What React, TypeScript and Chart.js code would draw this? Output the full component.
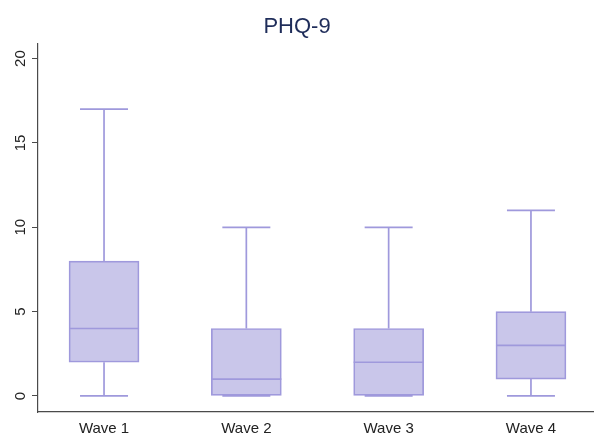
import React, { useEffect, useRef } from "react";
import { Chart, registerables } from "chart.js";

Chart.register(...registerables);

const title = "PHQ-9";
const categories = ["Wave 1", "Wave 2", "Wave 3", "Wave 4"];
const positions = [1, 2, 3, 4];
const mins = [0, 0, 0, 0];
const q1s = [2, 0, 0, 1];
const medians = [4, 1, 2, 3];
const q3s = [8, 4, 4, 5];
const maxs = [17, 10, 10, 11];
const yTicks = [0, 5, 10, 15, 20];

const FILL = "#c9c6ea";
const STROKE = "#9f99dc";
const AXIS = "#4a4a4a";
const TEXT = "#222222";
const FONT = "'Liberation Sans', Arial, sans-serif";
const BOX_HALF = 35;
const CAP_HALF = 24;
const LW = 1.7;

const boxPlugin = {
  id: "boxWhiskers",
  beforeDatasetsDraw(chart: any) {
    const { ctx } = chart;
    const x = chart.scales.x;
    const y = chart.scales.y;
    ctx.save();
    ctx.strokeStyle = STROKE;
    ctx.lineWidth = LW;
    positions.forEach((p, i) => {
      const cx = x.getPixelForValue(p);
      const yMin = y.getPixelForValue(mins[i]);
      const yQ1 = y.getPixelForValue(q1s[i]);
      const yQ3 = y.getPixelForValue(q3s[i]);
      const yMax = y.getPixelForValue(maxs[i]);
      ctx.beginPath();
      ctx.moveTo(cx, yQ3);
      ctx.lineTo(cx, yMax);
      ctx.moveTo(cx - CAP_HALF, yMax);
      ctx.lineTo(cx + CAP_HALF, yMax);
      ctx.moveTo(cx, yQ1);
      ctx.lineTo(cx, yMin);
      ctx.moveTo(cx - CAP_HALF, yMin);
      ctx.lineTo(cx + CAP_HALF, yMin);
      ctx.stroke();
    });
    ctx.restore();
  },
  afterDatasetsDraw(chart: any) {
    const { ctx } = chart;
    const x = chart.scales.x;
    const y = chart.scales.y;
    ctx.save();
    ctx.strokeStyle = STROKE;
    ctx.lineWidth = LW;
    positions.forEach((p, i) => {
      const cx = x.getPixelForValue(p);
      const yMed = y.getPixelForValue(medians[i]);
      ctx.beginPath();
      ctx.moveTo(cx - BOX_HALF, yMed);
      ctx.lineTo(cx + BOX_HALF, yMed);
      ctx.stroke();
    });
    ctx.restore();
  },
};

export default function App() {
  const ref = useRef<HTMLCanvasElement | null>(null);

  useEffect(() => {
    document.body.style.margin = "0";
    const canvas = ref.current;
    if (!canvas) return;
    const chart = new Chart(canvas, {
      type: "bar",
      data: {
        datasets: [
          {
            data: positions.map((p, i) => ({ x: p, y: [q1s[i], q3s[i]] })) as any,
            backgroundColor: FILL,
            borderColor: STROKE,
            borderWidth: LW,
            borderSkipped: false,
            barThickness: BOX_HALF * 2,
          },
        ],
      },
      options: {
        animation: false,
        responsive: false,
        devicePixelRatio: 1,
        layout: { padding: 0 },
        plugins: {
          legend: { display: false },
          tooltip: { enabled: false },
          title: {
            display: true,
            text: title,
            color: "#1f2d5a",
            font: { family: FONT, size: 22, weight: "normal" },
            padding: { top: 14, bottom: 3 },
          },
        },
        scales: {
          x: {
            type: "linear",
            offset: false,
            min: 0.536,
            max: 4.443,
            afterBuildTicks: (s: any) => {
              s.ticks = positions.map((v) => ({ value: v }));
            },
            afterFit: (s: any) => {
              s.height = 24;
            },
            grid: { display: false, drawTicks: false, offset: false },
            border: { display: true, color: AXIS, width: 1.2 },
            ticks: {
              autoSkip: false,
              maxRotation: 0,
              padding: 8,
              color: TEXT,
              font: { family: FONT, size: 15 },
              callback: (v: any) => categories[positions.indexOf(Number(v))] ?? "",
            },
          },
          y: {
            type: "linear",
            min: -0.95,
            max: 20.9,
            afterBuildTicks: (s: any) => {
              s.ticks = yTicks.map((v) => ({ value: v }));
            },
            afterFit: (s: any) => {
              s.width = 38;
            },
            grid: {
              drawOnChartArea: false,
              drawTicks: true,
              tickLength: 6,
              color: AXIS,
            },
            border: { display: true, color: AXIS, width: 1.2 },
            ticks: {
              minRotation: 90,
              maxRotation: 90,
              crossAlign: "center",
              padding: 3,
              color: TEXT,
              font: { family: FONT, size: 15 },
            },
          },
        },
      } as any,
      plugins: [boxPlugin],
    });
    return () => chart.destroy();
  }, []);

  return (
    <div style={{ width: 594, height: 436 }}>
      <canvas ref={ref} width={594} height={436} style={{ display: "block" }} />
    </div>
  );
}
